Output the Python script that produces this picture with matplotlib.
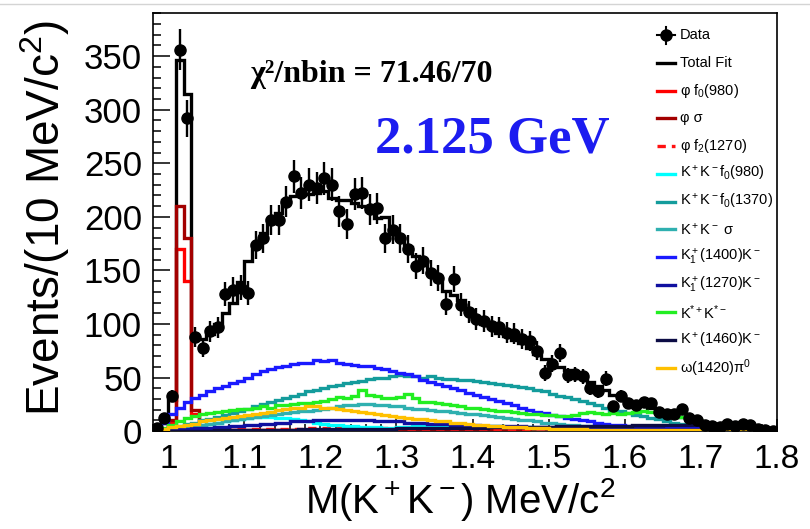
import numpy as np
import matplotlib
matplotlib.use("Agg")
import matplotlib.pyplot as plt
from matplotlib.lines import Line2D
from matplotlib.ticker import MultipleLocator

plt.rcParams["font.family"] = ["Liberation Sans", "DejaVu Sans"]
plt.rcParams["mathtext.fontset"] = "custom"
plt.rcParams["mathtext.rm"] = "Liberation Sans"
plt.rcParams["mathtext.it"] = "Liberation Sans:italic"
plt.rcParams["mathtext.bf"] = "Liberation Sans:bold"

# 10 MeV bins, 0.98 - 1.80 GeV (82 bins)
bin_edges = np.round(np.linspace(0.98, 1.80, 83), 3)
bin_centers = 0.5 * (bin_edges[:-1] + bin_edges[1:])

data = [3, 12, 33, 356, 292, 88, 78, 93, 97, 128,
        132, 134, 129, 174, 180, 197, 197, 214, 238, 222,
        230, 227, 236, 230, 205, 193, 221, 222, 207, 208,
        180, 188, 180, 170, 154, 159, 148, 143, 119, 142,
        118, 111, 105, 103, 98, 97, 92, 91, 86, 84,
        75, 54, 63, 73, 52, 53, 51, 40, 37, 49,
        23, 33, 26, 24, 27, 26, 18, 16, 16, 21,
        12, 10, 6, 5, 4, 7, 5, 7, 6, 2,
        1, 0]

total_fit = [2, 8, 29, 346, 315, 88, 86, 91, 100, 110,
             120, 139, 159, 175, 185, 198, 204, 216, 219, 220,
             221, 222, 224, 218, 216, 216, 213, 210, 205, 199,
             200, 190, 180, 172, 163, 156, 148, 140, 131, 127,
             122, 112, 106, 100, 96, 92, 89, 85, 82, 78,
             72, 67, 63, 60, 57, 54, 50, 46, 42, 38,
             34, 31, 28, 26, 24, 22, 19, 17, 15, 13,
             12, 10, 8, 7, 6, 5, 4, 4, 3, 3,
             2, 1]

phi_f0980 = [0, 1, 8, 170, 140, 16, 3, 2, 1, 1,
             1, 1, 1, 1, 1, 1, 1, 1, 1, 1,
             1, 1, 1, 1, 1, 1, 1, 1, 1, 1,
             1, 1, 1, 1, 1, 1, 1, 1, 1, 1,
             1, 1, 1, 1, 1, 1, 1, 1, 1, 1,
             1, 1, 1, 1, 1, 1, 1, 1, 1, 1,
             1, 1, 1, 1, 1, 1, 1, 1, 1, 1,
             1, 1, 0, 0, 0, 0, 0, 0, 0, 0,
             0, 0]

phi_sigma = [0, 1, 10, 210, 180, 20, 3, 2, 1, 1,
             1, 1, 1, 1, 1, 1, 1, 1, 1, 1,
             1, 1, 1, 1, 1, 1, 1, 1, 1, 1,
             1, 1, 1, 1, 1, 1, 1, 1, 1, 1,
             1, 1, 1, 1, 1, 1, 1, 1, 1, 1,
             1, 1, 1, 1, 1, 1, 1, 1, 1, 1,
             0, 0, 0, 0, 0, 0, 0, 0, 0, 0,
             0, 0, 0, 0, 0, 0, 0, 0, 0, 0,
             0, 0]

phi_f21270 = [0, 0, 1, 2, 2, 2, 2, 2, 2, 2,
              2, 2, 2, 2, 2, 2, 2, 2, 2, 2,
              3, 3, 3, 3, 3, 3, 3, 3, 3, 3,
              3, 3, 3, 2, 2, 2, 2, 2, 2, 2,
              2, 2, 2, 2, 2, 2, 2, 2, 2, 2,
              2, 2, 2, 1, 1, 1, 1, 1, 1, 1,
              1, 1, 1, 1, 1, 1, 1, 1, 1, 1,
              1, 1, 1, 0, 0, 0, 0, 0, 0, 0,
              0, 0]

kk_f0980 = [0, 1, 2, 3, 4, 5, 6, 7, 8, 9,
            10, 11, 12, 13, 13, 13, 12, 12, 11, 10,
            9, 8, 7, 6, 6, 5, 5, 4, 4, 4,
            3, 3, 4, 4, 5, 5, 5, 5, 5, 5,
            5, 5, 5, 5, 5, 5, 4, 4, 4, 4,
            3, 3, 3, 3, 3, 2, 2, 2, 2, 2,
            1, 1, 1, 1, 1, 1, 1, 1, 1, 1,
            1, 1, 0, 0, 0, 0, 0, 0, 0, 0,
            0, 0]

kk_f01370 = [1, 2, 4, 5, 7, 8, 10, 11, 13, 15,
             17, 19, 21, 23, 25, 27, 29, 31, 33, 35,
             37, 38, 40, 42, 43, 45, 46, 47, 49, 50,
             50, 51, 52, 51, 51, 50, 51, 50, 49, 49,
             48, 48, 47, 46, 45, 44, 43, 42, 41, 40,
             38, 37, 35, 33, 32, 30, 28, 26, 24, 22,
             20, 19, 17, 15, 14, 12, 11, 9, 8, 7,
             6, 5, 4, 4, 3, 2, 2, 1, 1, 1,
             0, 0]

kk_sigma = [0, 1, 2, 3, 4, 5, 6, 7, 8, 9,
            10, 11, 12, 13, 14, 15, 16, 17, 18, 19,
            19, 20, 21, 22, 23, 24, 24, 25, 25, 24,
            24, 23, 23, 22, 21, 21, 20, 19, 19, 18,
            17, 16, 16, 15, 14, 13, 12, 11, 10, 10,
            9, 8, 8, 7, 6, 6, 5, 5, 4, 4,
            3, 3, 3, 2, 2, 2, 2, 1, 1, 1,
            1, 1, 1, 0, 0, 0, 0, 0, 0, 0,
            0, 0]

k1_1400 = [3, 8, 16, 22, 27, 31, 34, 37, 40, 42,
           45, 47, 50, 53, 56, 58, 60, 61, 63, 64,
           64, 66, 65, 66, 64, 63, 62, 61, 61, 59,
           58, 56, 54, 53, 51, 48, 46, 44, 42, 40,
           38, 36, 34, 32, 30, 28, 26, 24, 22, 20,
           18, 17, 15, 14, 12, 11, 10, 9, 8, 7,
           6, 6, 5, 5, 4, 4, 4, 3, 3, 3,
           3, 3, 2, 2, 2, 2, 2, 2, 1, 1,
           1, 1]

k1_1270 = [0, 1, 1, 2, 2, 3, 3, 3, 4, 4,
           5, 5, 6, 6, 7, 7, 8, 8, 9, 9,
           9, 10, 10, 10, 10, 10, 10, 10, 10, 9,
           9, 9, 9, 8, 8, 8, 7, 7, 7, 6,
           6, 6, 6, 5, 5, 5, 5, 5, 5, 4,
           4, 4, 4, 4, 4, 4, 4, 4, 3, 3,
           3, 3, 3, 3, 3, 3, 3, 2, 2, 2,
           2, 2, 2, 1, 1, 1, 1, 1, 1, 1,
           0, 0]

kst_kst = [1, 3, 6, 9, 12, 14, 16, 17, 18, 19,
           20, 21, 21, 22, 23, 22, 24, 24, 25, 26,
           26, 27, 28, 30, 32, 31, 33, 38, 34, 33,
           31, 31, 32, 35, 31, 27, 27, 26, 25, 24,
           23, 22, 22, 21, 20, 19, 19, 18, 17, 16,
           16, 15, 15, 14, 14, 15, 17, 18, 17, 16,
           17, 16, 17, 18, 19, 18, 17, 15, 14, 13,
           12, 10, 8, 7, 6, 5, 4, 3, 3, 2,
           1, 1]

k_1460 = [0, 0, 0, 0, 0, 0, 0, 0, 1, 1,
          1, 1, 1, 1, 1, 1, 1, 1, 1, 2,
          2, 2, 2, 2, 2, 2, 2, 2, 2, 2,
          2, 2, 3, 3, 3, 3, 3, 3, 3, 3,
          3, 3, 3, 3, 4, 4, 4, 4, 4, 4,
          4, 4, 4, 5, 5, 5, 5, 5, 5, 5,
          5, 5, 5, 6, 6, 6, 6, 6, 6, 6,
          6, 6, 5, 5, 4, 4, 3, 3, 2, 1,
          1, 0]

omega_pi0 = [1, 2, 4, 5, 6, 7, 9, 10, 11, 12,
             13, 14, 15, 16, 17, 18, 20, 21, 22, 22,
             23, 23, 22, 22, 21, 20, 19, 18, 17, 16,
             15, 14, 13, 12, 11, 11, 10, 9, 9, 8,
             8, 7, 6, 6, 5, 5, 4, 4, 4, 3,
             3, 3, 2, 2, 2, 2, 2, 1, 1, 1,
             1, 1, 1, 1, 1, 1, 1, 1, 1, 1,
             1, 1, 1, 1, 1, 1, 1, 1, 1, 1,
             1, 1]

x_ticks = [1.0, 1.1, 1.2, 1.3, 1.4, 1.5, 1.6, 1.7, 1.8]
x_tick_labels = ["1", "1.1", "1.2", "1.3", "1.4", "1.5", "1.6", "1.7", "1.8"]

# (label, values, colour, linestyle) in drawing order
components = [
    (r"φ f$_0$(980)", phi_f0980, "#ff0000", "-"),
    (r"φ σ", phi_sigma, "#a30000", "-"),
    (r"φ f$_2$(1270)", phi_f21270, "#ff1010", (0, (2.5, 1.8))),
    (r"K$^+$K$^-$f$_0$(980)", kk_f0980, "#00ffff", "-"),
    (r"K$^+$K$^-$f$_0$(1370)", kk_f01370, "#149c9c", "-"),
    (r"K$^+$K$^-$ σ", kk_sigma, "#2fb0b0", "-"),
    (r"K$_1^+$(1400)K$^-$", k1_1400, "#1a1aff", "-"),
    (r"K$_1^+$(1270)K$^-$", k1_1270, "#1010a0", "-"),
    (r"K$^{*+}$K$^{*-}$", kst_kst, "#22ee22", "-"),
    (r"K$^+$(1460)K$^-$", k_1460, "#0c0c45", "-"),
    (r"ω(1420)π$^0$", omega_pi0, "#ffc000", "-"),
]

fig = plt.figure(figsize=(8.1, 5.29), dpi=100)
# thin grey slide border at the very top
fig.add_artist(Line2D([0, 1], [0.992, 0.992], transform=fig.transFigure,
                      color="#d4d4d4", lw=1))
ax = fig.add_axes([0.189, 0.185, 0.770, 0.790])

ax.stairs(total_fit, bin_edges, color="black", lw=2.4, baseline=None, zorder=3)
for i, (label, vals, color, ls) in enumerate(components):
    ax.stairs(vals, bin_edges, color=color, lw=2.4, ls=ls, baseline=None, zorder=4 + i * 0.1)

data_arr = np.array(data, dtype=float)
ax.errorbar(bin_centers, data_arr, yerr=np.sqrt(data_arr), fmt="o", color="black",
            ms=8, elinewidth=1.7, capsize=0, zorder=10)

ax.set_xlim(0.98, 1.8)
ax.set_ylim(0, 390)
ax.set_xticks(x_ticks)
ax.set_xticklabels(x_tick_labels)
ax.xaxis.set_minor_locator(MultipleLocator(0.02))
ax.yaxis.set_major_locator(MultipleLocator(50))
ax.yaxis.set_minor_locator(MultipleLocator(10))
ax.tick_params(axis="both", which="both", direction="in", top=False, right=False, width=1.1)
ax.tick_params(axis="y", which="major", length=12, labelsize=25, pad=8)
ax.tick_params(axis="y", which="minor", length=6)
ax.tick_params(axis="x", which="major", length=9, labelsize=24, pad=9)
ax.tick_params(axis="x", which="minor", length=5)
for sp in ax.spines.values():
    sp.set_linewidth(1.2)

ax.set_ylabel(r"Events/(10 MeV/c$^2$)", fontsize=33)
ax.yaxis.set_label_coords(-0.13, 0.51)
ax.set_xlabel(r"M(K$^+$K$^-$) MeV/c$^2$", fontsize=29, va="top")
ax.xaxis.set_label_coords(0.492, -0.108)

ax.text(0.155, 0.835, "χ²/nbin = 71.46/70", transform=ax.transAxes,
        family="Liberation Serif", weight="bold", fontsize=23, va="baseline")
ax.text(0.356, 0.667, "2.125 GeV", transform=ax.transAxes, color="#1c1cf0",
        family="Liberation Serif", weight="bold", fontsize=38, va="baseline")

# legend drawn by hand, ROOT style
hx0, hx1, tx = 0.8077, 0.8365, 0.8446
y0, dy = 0.947, 0.0663
ax.plot([hx0, hx1], [y0, y0], transform=ax.transAxes, color="black", lw=1.5, clip_on=False)
ax.plot([0.5 * (hx0 + hx1)] * 2, [y0 - 0.02, y0 + 0.02], transform=ax.transAxes,
        color="black", lw=1.5, clip_on=False)
ax.plot(0.5 * (hx0 + hx1), y0, "o", color="black", ms=8, transform=ax.transAxes, clip_on=False)
ax.text(tx, y0, "Data", transform=ax.transAxes, fontsize=10.5, va="center")
ax.plot([hx0, hx1], [y0 - dy, y0 - dy], transform=ax.transAxes, color="black", lw=2.4)
ax.text(tx, y0 - dy, "Total Fit", transform=ax.transAxes, fontsize=10.5, va="center")
for i, (label, vals, color, ls) in enumerate(components):
    y = y0 - (i + 2) * dy
    ax.plot([hx0, hx1], [y, y], transform=ax.transAxes, color=color, lw=2.4, ls=ls)
    ax.text(tx, y, label, transform=ax.transAxes, fontsize=10.5, va="center", clip_on=True)

fig.savefig("out.png", dpi=100)
